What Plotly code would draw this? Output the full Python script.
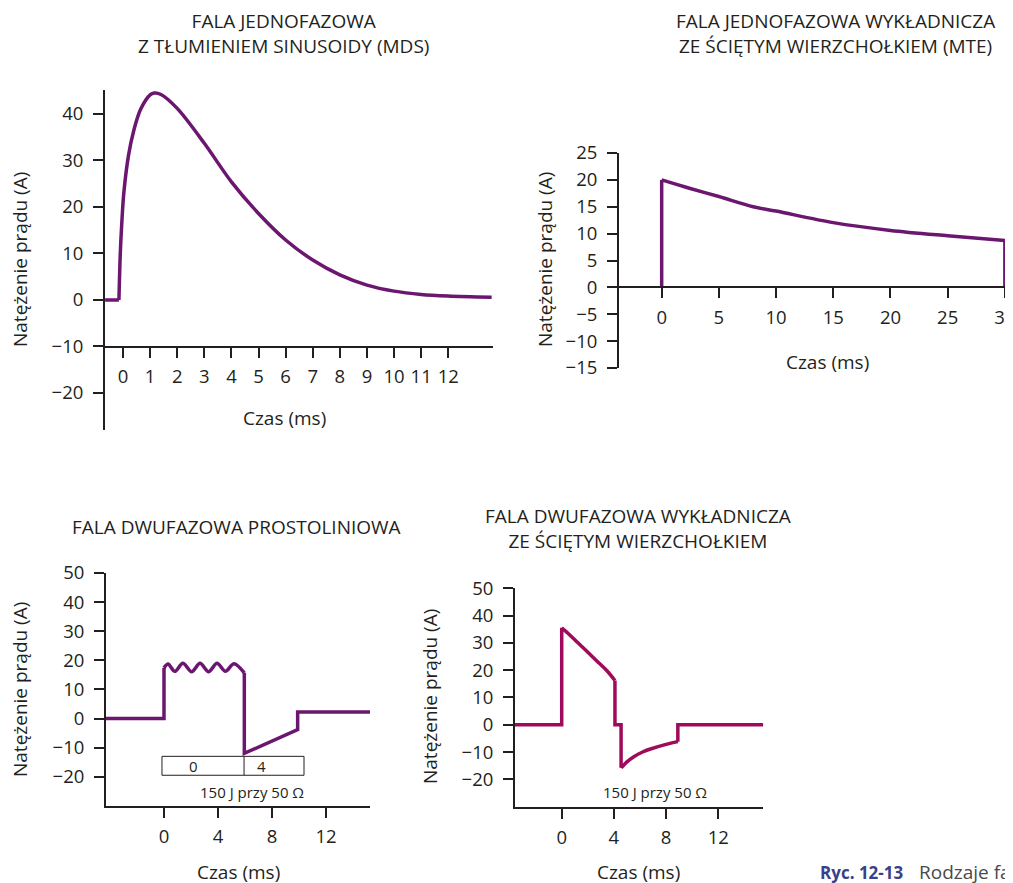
import plotly.graph_objects as go

# page body has an 8px margin, so the figure is drawn 8px in from the window corner
OFF = 8
W, H = 1013 - OFF, 883 - OFF

# ---------------- data ----------------
# A: monophasic damped sine (MDS)
mds_base_t = [-0.66, -0.15]
mds_base_i = [0, 0]
mds_t = [-0.15, -0.1, -0.04, 0.03, 0.2, 0.4, 0.65, 1.0, 1.15, 1.4, 2.0, 3.0,
         4.0, 5.0, 6.0, 7.0, 8.0, 9.0, 10.0, 11.0, 12.0, 13.6]
mds_i = [0, 10, 17, 23, 31, 36.5, 41, 44.1, 44.5, 44.2, 41.2, 33.7,
         25.4, 18.6, 12.9, 8.6, 5.4, 3.2, 1.9, 1.2, 0.86, 0.58]

# B: monophasic truncated exponential (MTE)
mte_rise_t = [0, 0]
mte_rise_i = [0, 20]
mte_t = [0, 2.5, 5, 8, 10, 15, 20, 25, 30]
mte_i = [20, 18.4, 16.9, 15.0, 14.2, 12.05, 10.6, 9.6, 8.7]
mte_fall_t = [30, 30]
mte_fall_i = [8.7, 0]

# C: biphasic rectilinear
rl_pre_t = [-4.3, 0, 0]
rl_pre_i = [0, 0, 17.4]
rl_wave_t = [0, 0.3, 0.8, 1.4, 2.05, 2.67, 3.3, 3.93, 4.55, 5.18, 5.95]
rl_wave_i = [17.4, 18.7, 16.2, 19.0, 16.1, 19.0, 16.1, 19.0, 16.2, 18.8, 15.7]
rl_post_t = [5.95, 5.95, 9.9, 9.9, 15.26]
rl_post_i = [15.7, -12.0, -3.8, 2.2, 2.2]
rl_phase_bounds = [-0.15, 5.93, 10.37]
rl_phase_box_i = [-19.5, -13.0]
rl_phase_labels = ["0", "4"]
rl_phase_label_t = [2.15, 7.2]

# D: biphasic truncated exponential
bte_a_t = [-3.58, 0, 0]
bte_a_i = [0, 0, 35.5]
bte_b_t = [0, 0.6, 1.2, 2.0, 2.9, 3.5, 4.08]
bte_b_i = [35.5, 33.0, 30.2, 26.6, 22.4, 19.6, 16.2]
bte_c_t = [4.08, 4.08, 4.55, 4.55]
bte_c_i = [16.2, 0, 0, -15.8]
bte_d_t = [4.55, 5.0, 5.5, 6.2, 6.8, 8.0, 8.9]
bte_d_i = [-15.8, -13.6, -11.8, -10.0, -8.9, -7.2, -6.2]
bte_e_t = [8.9, 8.9, 15.45]
bte_e_i = [-6.2, 0, 0]

energy_label = "150 J przy 50 Ω"

titles = [
    "FALA JEDNOFAZOWA<br>Z TŁUMIENIEM SINUSOIDY (MDS)",
    "FALA JEDNOFAZOWA WYKŁADNICZA<br>ZE ŚCIĘTYM WIERZCHOŁKIEM (MTE)",
    "FALA DWUFAZOWA PROSTOLINIOWA",
    "FALA DWUFAZOWA WYKŁADNICZA<br>ZE ŚCIĘTYM WIERZCHOŁKIEM",
]
y_title = "Natężenie prądu (A)"
x_title = "Czas (ms)"

ticks_x = [list(range(0, 13)), [0, 5, 10, 15, 20, 25, 30], [0, 4, 8, 12], [0, 4, 8, 12]]
ticks_y = [list(range(-20, 41, 10)), list(range(-15, 26, 5)),
           list(range(-20, 51, 10)), list(range(-20, 51, 10))]

# ---------------- styling ----------------
PURPLE = "#6b176f"
CRIMSON = "#a00a5c"
INK = "#231f20"
FONT = "Open Sans"
LW = 3.5


def fx(px):
    return (px - OFF) / W


def fy(py):
    return 1 - (py - OFF) / H


fig = go.Figure()


def add_line(t, i, axis, color, shape="linear"):
    fig.add_trace(go.Scatter(
        x=t, y=i, mode="lines", xaxis="x" + axis, yaxis="y" + axis,
        line=dict(color=color, width=LW, shape=shape, smoothing=0.9),
        showlegend=False, hoverinfo="skip"))


add_line(mds_base_t, mds_base_i, "", PURPLE)
add_line(mds_t, mds_i, "", PURPLE, "spline")
add_line(mte_rise_t, mte_rise_i, "2", PURPLE)
add_line(mte_t, mte_i, "2", PURPLE, "spline")
add_line(mte_fall_t, mte_fall_i, "2", PURPLE)
add_line(rl_pre_t, rl_pre_i, "3", PURPLE)
add_line(rl_wave_t, rl_wave_i, "3", PURPLE, "spline")
add_line(rl_post_t, rl_post_i, "3", PURPLE)
add_line(bte_a_t, bte_a_i, "4", CRIMSON)
add_line(bte_b_t, bte_b_i, "4", CRIMSON, "spline")
add_line(bte_c_t, bte_c_i, "4", CRIMSON)
add_line(bte_d_t, bte_d_i, "4", CRIMSON, "spline")
add_line(bte_e_t, bte_e_i, "4", CRIMSON)

tickfont = dict(family=FONT, size=18.5, color=INK)
common = dict(showgrid=False, zeroline=False, showline=True, linewidth=2,
              linecolor=INK, ticks="outside", ticklen=10, tickwidth=2,
              tickcolor=INK, tickfont=tickfont, fixedrange=True, automargin=False)

# panel geometry in window pixels: x domain, y domain, x range, y range
panels = [
    dict(xd=(105, 493), yd=(430, 90), xr=(-0.664, 13.65), yr=(-27.96, 45.16), xpos=346.5),
    dict(xd=(619, 1013), yd=(368, 153), xr=(-3.73, 30.71), yr=(-15, 25), xpos=287.3),
    dict(xd=(106, 370), yd=(805.8, 573), xr=(-4.296, 15.259), yr=(-30, 50), xpos=None),
    dict(xd=(515, 763.3), yd=(806.6, 588.3), xr=(-3.58, 15.45), yr=(-30, 50), xpos=None),
]

layout = {}
for k, p in enumerate(panels):
    sfx = "" if k == 0 else str(k + 1)
    xa = dict(common, domain=[fx(p["xd"][0]), min(1.0, fx(p["xd"][1]))], range=list(p["xr"]),
              tickmode="array", tickvals=ticks_x[k], ticklabeloverflow="allow",
              ticklabelstandoff=3)
    if p["xpos"] is not None:
        xa.update(anchor="free", position=fy(p["xpos"]))
    else:
        xa.update(anchor="y" + sfx)
    ya = dict(common, domain=[fy(p["yd"][0]), fy(p["yd"][1])], range=list(p["yr"]),
              tickmode="array", tickvals=ticks_y[k], anchor="x" + sfx,
              ticklabelstandoff=6)
    layout["xaxis" + sfx] = xa
    layout["yaxis" + sfx] = ya

fig.update_layout(**layout)

ann = []
textfont = dict(family=FONT, size=19, color=INK)
# panel titles (window pixel centres)
title_pos = [(283, 34), (835, 34), (236, 527), (638, 528)]
for txt, (cx, cy) in zip(titles, title_pos):
    ann.append(dict(text=txt, x=fx(cx), y=fy(cy), xref="paper", yref="paper",
                    showarrow=False, xanchor="center", yanchor="middle",
                    font=textfont, align="center"))
# axis titles
xt_pos = [(284, 418), (827, 362), (238, 872), (638, 872)]
yt_pos = [(20, 260), (545, 260), (20, 690), (430, 697)]
for (cx, cy) in xt_pos:
    ann.append(dict(text=x_title, x=fx(cx), y=fy(cy), xref="paper", yref="paper",
                    showarrow=False, xanchor="center", yanchor="middle", font=textfont))
for (cx, cy) in yt_pos:
    ann.append(dict(text=y_title, x=fx(cx), y=fy(cy), xref="paper", yref="paper",
                    showarrow=False, xanchor="center", yanchor="middle", font=textfont,
                    textangle=-90))

# phase box labels (panel C)
smallfont = dict(family=FONT, size=15, color=INK)
for lab, t in zip(rl_phase_labels, rl_phase_label_t):
    ann.append(dict(text=lab, x=t, y=sum(rl_phase_box_i) / 2, xref="x3", yref="y3",
                    showarrow=False, xanchor="center", yanchor="middle", font=smallfont))
ann.append(dict(text=energy_label, x=6.5, y=-25.4, xref="x3", yref="y3",
                showarrow=False, xanchor="center", yanchor="middle", font=smallfont))
ann.append(dict(text=energy_label, x=7.15, y=-24.8, xref="x4", yref="y4",
                showarrow=False, xanchor="center", yanchor="middle", font=smallfont))

# caption
ann.append(dict(text="<b>Ryc. 12-13</b>", x=fx(818), y=fy(872), xref="paper", yref="paper",
                showarrow=False, xanchor="left", yanchor="middle",
                font=dict(family=FONT, size=17, color="#3b3f8a")))
ann.append(dict(text="Rodzaje fa", x=fx(917), y=fy(872), xref="paper", yref="paper",
                showarrow=False, xanchor="left", yanchor="middle",
                font=dict(family=FONT, size=19, color="#4a4a4a")))

shapes = [dict(type="rect", xref="x3", yref="y3", x0=rl_phase_bounds[0], x1=rl_phase_bounds[2],
               y0=rl_phase_box_i[0], y1=rl_phase_box_i[1], line=dict(color=INK, width=1)),
          dict(type="line", xref="x3", yref="y3", x0=rl_phase_bounds[1], x1=rl_phase_bounds[1],
               y0=rl_phase_box_i[0], y1=rl_phase_box_i[1], line=dict(color=INK, width=1))]

fig.update_layout(width=W, height=H, margin=dict(l=0, r=0, t=0, b=0, autoexpand=False),
                  paper_bgcolor="white", plot_bgcolor="white",
                  annotations=ann, shapes=shapes, showlegend=False,
                  font=dict(family=FONT, color=INK))

fig.write_html(
    "out.html",
    post_script="document.documentElement.style.overflow='hidden';"
                "document.body.style.overflow='hidden';",
)
